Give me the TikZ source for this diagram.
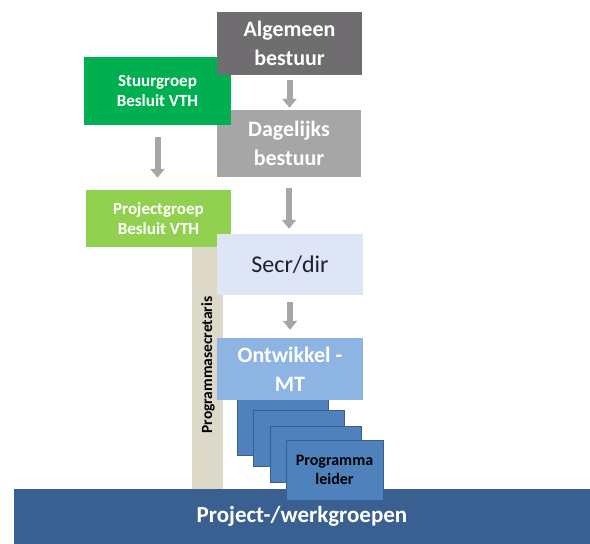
\documentclass[tikz,border=0pt]{standalone}
\usepackage{fontspec}
\setmainfont{Carlito}
\usetikzlibrary{arrows.meta}
\definecolor{algc}{RGB}{111,109,112}
\definecolor{dagc}{RGB}{166,166,166}
\definecolor{stuurc}{RGB}{0,176,80}
\definecolor{projc}{RGB}{146,208,80}
\definecolor{secrc}{RGB}{222,230,246}
\definecolor{ontwc}{RGB}{141,180,226}
\definecolor{stackc}{RGB}{79,129,189}
\definecolor{stackb}{RGB}{56,93,138}
\definecolor{barc}{RGB}{58,96,145}
\definecolor{vbarc}{RGB}{221,217,200}
\definecolor{arrc}{RGB}{166,166,166}
\definecolor{secrt}{RGB}{30,30,50}
\tikzset{
  box/.style={rectangle, inner sep=0pt, align=center, draw=none},
  bigtxt/.style={font=\fontsize{22}{29}\selectfont\bfseries},
  smalltxt/.style={font=\fontsize{17}{20}\selectfont\bfseries},
  stackbox/.style={rectangle, inner sep=0pt, fill=stackc, draw=stackb, line width=1pt, minimum width=91pt, minimum height=56pt},
  barrow/.style={draw=arrc, line width=6pt, -{Triangle[width=14pt,length=9pt]}},
}
\begin{document}
\begin{tikzpicture}[x=1pt,y=-1pt]
\useasboundingbox (0,0) rectangle (590,544);
% vertical bar
\node[box, fill=vbarc, minimum width=31pt, minimum height=242pt] (vbar) at (207.5,368) {};
\node[rotate=90, font=\fontsize{15.5}{17}\selectfont\bfseries, text=black] (vtxt) at (208,365) {Programmasecretaris};
% left column
\node[box, fill=projc, text=white, smalltxt, minimum width=145pt, minimum height=57pt] (proj) at (158.5,218.5) {Projectgroep\\Besluit VTH};
% centre column
\node[box, fill=dagc, text=white, bigtxt, minimum width=144pt, minimum height=67pt] (dag) at (289,143.5) {Dagelijks\\bestuur};
\node[box, fill=stuurc, text=white, smalltxt, minimum width=147pt, minimum height=68pt] (stuur) at (157.5,91) {Stuurgroep\\Besluit VTH};
\node[box, fill=algc, text=white, bigtxt, minimum width=145pt, minimum height=63pt] (alg) at (289.5,43.5) {Algemeen\\bestuur};
\node[box, fill=secrc, text=secrt, font=\fontsize{24}{29}\selectfont, minimum width=146pt, minimum height=61pt] (secr) at (290,264.5) {Secr/dir};
% stack
\node[stackbox] (s1) at (283,427) {};
\node[stackbox] (s2) at (299,438.5) {};
\node[stackbox] (s3) at (315.5,454) {};
% bottom bar
\node[box, fill=barc, text=white, font=\fontsize{23}{27}\selectfont\bfseries, minimum width=576pt, minimum height=55pt] (bar) at (302,516.5) {Project-/werkgroepen};
\node[stackbox, minimum width=97pt, minimum height=60pt, text=black, font=\fontsize{16}{19}\selectfont\bfseries, align=center] (s4) at (334.5,470) {Programma\\leider};
\node[box, fill=ontwc, text=white, bigtxt, minimum width=146pt, minimum height=62pt] (ontw) at (290,369) {Ontwikkel -\\MT};
% arrows
\draw[barrow, shorten <=5pt, shorten >=2pt] (alg.south) -- (alg.south |- dag.north);
\draw[barrow, shorten <=12pt, shorten >=12pt] (stuur.south) -- (stuur.south |- proj.north);
\draw[barrow, shorten <=11pt, shorten >=5pt] (dag.south) -- (dag.south |- secr.north);
\draw[barrow, shorten <=7pt, shorten >=8pt] (secr.south) -- (secr.south |- ontw.north);
\end{tikzpicture}
\end{document}
